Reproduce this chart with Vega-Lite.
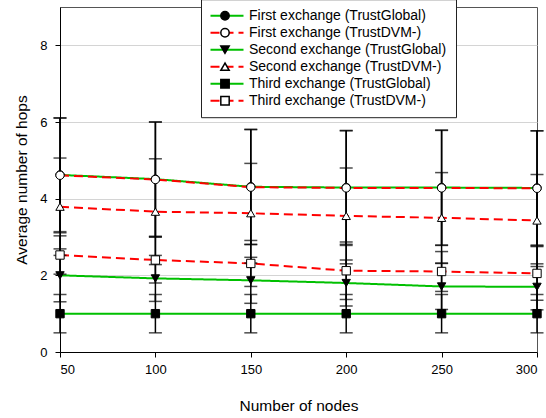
{
  "$schema": "https://vega.github.io/schema/vega-lite/v6.json",
  "width": 477,
  "height": 345,
  "autosize": {"type": "none"},
  "padding": {"left": 60, "top": 7, "right": 9, "bottom": 66},
  "background": "white",
  "config": {
    "font": "Liberation Sans",
    "view": {"stroke": "#555", "strokeWidth": 1},
    "axis": {
      "labelFont": "Liberation Sans", "titleFont": "Liberation Sans",
      "labelColor": "black", "titleColor": "black", "titleFontWeight": "normal",
      "labelFontSize": 13, "titleFontSize": 15.5,
      "domainColor": "black", "tickColor": "black", "tickSize": 5
    }
  },
  "data": {"values": [
    {"nodes": 50, "series": "First exchange (TrustGlobal)", "value": 4.62, "err": 1.48},
    {"nodes": 100, "series": "First exchange (TrustGlobal)", "value": 4.51, "err": 1.49},
    {"nodes": 150, "series": "First exchange (TrustGlobal)", "value": 4.31, "err": 1.5},
    {"nodes": 200, "series": "First exchange (TrustGlobal)", "value": 4.29, "err": 1.48},
    {"nodes": 250, "series": "First exchange (TrustGlobal)", "value": 4.29, "err": 1.5},
    {"nodes": 300, "series": "First exchange (TrustGlobal)", "value": 4.28, "err": 1.49},
    {"nodes": 50, "series": "First exchange (TrustDVM-)", "value": 4.61, "err": 1.5},
    {"nodes": 100, "series": "First exchange (TrustDVM-)", "value": 4.5, "err": 1.5},
    {"nodes": 150, "series": "First exchange (TrustDVM-)", "value": 4.3, "err": 1.5},
    {"nodes": 200, "series": "First exchange (TrustDVM-)", "value": 4.28, "err": 1.5},
    {"nodes": 250, "series": "First exchange (TrustDVM-)", "value": 4.28, "err": 1.5},
    {"nodes": 300, "series": "First exchange (TrustDVM-)", "value": 4.27, "err": 1.5},
    {"nodes": 50, "series": "Second exchange (TrustGlobal)", "value": 2.0, "err": 0.69},
    {"nodes": 100, "series": "Second exchange (TrustGlobal)", "value": 1.92, "err": 0.6},
    {"nodes": 150, "series": "Second exchange (TrustGlobal)", "value": 1.87, "err": 0.6},
    {"nodes": 200, "series": "Second exchange (TrustGlobal)", "value": 1.8, "err": 0.6},
    {"nodes": 250, "series": "Second exchange (TrustGlobal)", "value": 1.71, "err": 0.6},
    {"nodes": 300, "series": "Second exchange (TrustGlobal)", "value": 1.7, "err": 0.6},
    {"nodes": 50, "series": "Second exchange (TrustDVM-)", "value": 3.79, "err": 1.27},
    {"nodes": 100, "series": "Second exchange (TrustDVM-)", "value": 3.66, "err": 1.38},
    {"nodes": 150, "series": "Second exchange (TrustDVM-)", "value": 3.62, "err": 1.3},
    {"nodes": 200, "series": "Second exchange (TrustDVM-)", "value": 3.55, "err": 1.25},
    {"nodes": 250, "series": "Second exchange (TrustDVM-)", "value": 3.5, "err": 1.18},
    {"nodes": 300, "series": "Second exchange (TrustDVM-)", "value": 3.43, "err": 1.2},
    {"nodes": 50, "series": "Third exchange (TrustGlobal)", "value": 1.0, "err": 0.5},
    {"nodes": 100, "series": "Third exchange (TrustGlobal)", "value": 1.0, "err": 0.5},
    {"nodes": 150, "series": "Third exchange (TrustGlobal)", "value": 1.0, "err": 0.5},
    {"nodes": 200, "series": "Third exchange (TrustGlobal)", "value": 1.0, "err": 0.5},
    {"nodes": 250, "series": "Third exchange (TrustGlobal)", "value": 1.0, "err": 0.5},
    {"nodes": 300, "series": "Third exchange (TrustGlobal)", "value": 1.0, "err": 0.5},
    {"nodes": 50, "series": "Third exchange (TrustDVM-)", "value": 2.53, "err": 0.5},
    {"nodes": 100, "series": "Third exchange (TrustDVM-)", "value": 2.4, "err": 0.6},
    {"nodes": 150, "series": "Third exchange (TrustDVM-)", "value": 2.31, "err": 0.6},
    {"nodes": 200, "series": "Third exchange (TrustDVM-)", "value": 2.12, "err": 0.75},
    {"nodes": 250, "series": "Third exchange (TrustDVM-)", "value": 2.1, "err": 0.52},
    {"nodes": 300, "series": "Third exchange (TrustDVM-)", "value": 2.05, "err": 0.7}
  ]},
  "encoding": {
    "x": {"field": "nodes", "type": "quantitative",
      "scale": {"domain": [50, 300], "nice": false, "zero": false},
      "axis": {"values": [50, 100, 150, 200, 250, 300], "grid": false, "title": "Number of nodes", "labelPadding": 6, "titlePadding": 22}},
    "y": {"field": "value", "type": "quantitative",
      "scale": {"domain": [0, 9], "nice": false},
      "axis": {"values": [0, 2, 4, 6, 8], "grid": true, "gridColor": "#d4d4d4", "title": "Average number of hops", "labelPadding": 8, "titlePadding": 10}}
  },
  "layer": [
    {
      "mark": {"type": "line", "strokeWidth": 2},
      "encoding": {
        "color": {"field": "series", "type": "nominal",
          "scale": {"domain": ["First exchange (TrustGlobal)", "First exchange (TrustDVM-)", "Second exchange (TrustGlobal)", "Second exchange (TrustDVM-)", "Third exchange (TrustGlobal)", "Third exchange (TrustDVM-)"],
            "range": ["#00c000", "#ff0000", "#00c000", "#ff0000", "#00c000", "#ff0000"]},
          "legend": {"title": null, "orient": "none", "legendX": 141, "legendY": -7.8, "symbolType": "M-3,0L3,0", "symbolSize": 121, "symbolStrokeWidth": 2, "symbolOffset": 10, "padding": 9, "strokeColor": "#222", "fillColor": "white", "labelFontSize": 14, "labelFont": "Liberation Sans", "labelColor": "black", "labelLimit": 400, "rowPadding": 2, "clipHeight": 15, "labelOffset": 15}},
        "strokeDash": {"field": "series", "type": "nominal",
          "scale": {"domain": ["First exchange (TrustGlobal)", "First exchange (TrustDVM-)", "Second exchange (TrustGlobal)", "Second exchange (TrustDVM-)", "Third exchange (TrustGlobal)", "Third exchange (TrustDVM-)"],
            "range": [[1, 0], [9, 5], [1, 0], [9, 5], [1, 0], [9, 5]]},
          "legend": {"title": null, "orient": "none", "legendX": 141, "legendY": -7.8, "symbolType": "M-3,0L3,0", "symbolSize": 121, "symbolStrokeWidth": 2, "symbolOffset": 10, "padding": 9, "strokeColor": "#222", "fillColor": "white", "labelFontSize": 14, "labelFont": "Liberation Sans", "labelColor": "black", "labelLimit": 400, "rowPadding": 2, "clipHeight": 15, "labelOffset": 15}}
      }
    },
    {
      "mark": {"type": "errorbar", "ticks": {"size": 13, "thickness": 1.5, "color": "black"}, "rule": {"color": "black", "strokeWidth": 1.5}},
      "encoding": {"yError": {"field": "err"}}
    },
    {
      "mark": {"type": "point", "filled": true, "stroke": "black", "strokeWidth": 1, "size": 70, "opacity": 1},
      "encoding": {
        "shape": {"field": "series", "type": "nominal",
          "scale": {"domain": ["First exchange (TrustGlobal)", "First exchange (TrustDVM-)", "Second exchange (TrustGlobal)", "Second exchange (TrustDVM-)", "Third exchange (TrustGlobal)", "Third exchange (TrustDVM-)"],
            "range": ["circle", "circle", "triangle-down", "triangle-up", "square", "square"]},
          "legend": {"title": null, "orient": "none", "legendX": 149, "legendY": -7.8, "padding": 9, "symbolSize": 70, "labelExpr": "''", "labelFontSize": 14, "rowPadding": 2, "clipHeight": 15,
            "encode": {"symbols": {"update": {"stroke": {"value": "black"}, "strokeWidth": {"value": 1}, "opacity": {"value": 1}}}}}},
        "fill": {"field": "series", "type": "nominal",
          "scale": {"domain": ["First exchange (TrustGlobal)", "First exchange (TrustDVM-)", "Second exchange (TrustGlobal)", "Second exchange (TrustDVM-)", "Third exchange (TrustGlobal)", "Third exchange (TrustDVM-)"],
            "range": ["black", "white", "black", "white", "black", "white"]},
          "legend": {"title": null, "orient": "none", "legendX": 149, "legendY": -7.8, "padding": 9, "symbolSize": 70, "labelExpr": "''", "labelFontSize": 14, "rowPadding": 2, "clipHeight": 15,
            "encode": {"symbols": {"update": {"stroke": {"value": "black"}, "strokeWidth": {"value": 1}, "opacity": {"value": 1}}}}}}
      }
    }
  ],
  "resolve": {"legend": {"shape": "independent", "fill": "independent"}}
}
